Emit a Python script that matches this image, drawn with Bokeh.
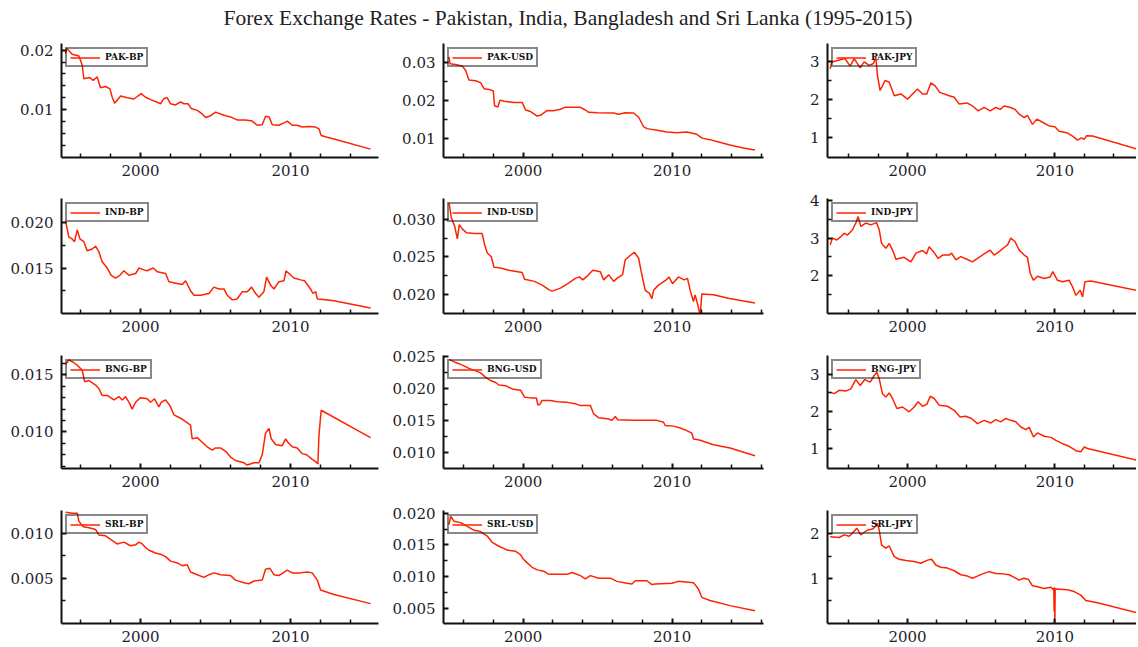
from bokeh.plotting import figure
from bokeh.layouts import gridplot, column
from bokeh.models import Range1d, FixedTicker, Div
from bokeh.embed import file_html
from bokeh.resources import INLINE

TITLE = "Forex Exchange Rates - Pakistan, India, Bangladesh and Sri Lanka (1995-2015)"

# ---------------- data ----------------
pak_bp_year = [1995.0, 1995.07, 1995.44, 1995.89, 1996.11, 1996.22, 1996.62, 1996.84, 1997.11, 1997.33, 1997.67, 1997.96, 1998.11, 1998.27, 1998.44, 1998.67, 1999.11, 1999.56, 1999.82, 2000.04, 2000.33, 2000.67, 2001.07, 2001.33, 2001.56, 2001.78, 2002.0, 2002.33, 2002.67, 2002.89, 2003.16, 2003.38, 2003.78, 2004.11, 2004.33, 2004.67, 2005.0, 2005.33, 2005.67, 2006.0, 2006.44, 2007.0, 2007.44, 2007.78, 2008.11, 2008.33, 2008.56, 2008.78, 2009.22, 2009.56, 2009.78, 2010.11, 2010.44, 2010.78, 2011.22, 2011.67, 2011.89, 2012.04, 2012.44, 2012.89, 2015.33]
pak_bp_rate = [0.0194, 0.0203, 0.0193, 0.0190, 0.0175, 0.0152, 0.0154, 0.0149, 0.0155, 0.0137, 0.0139, 0.0135, 0.0121, 0.0111, 0.0116, 0.0123, 0.0120, 0.0118, 0.0123, 0.0127, 0.0121, 0.0117, 0.0113, 0.0110, 0.0119, 0.0120, 0.0110, 0.0108, 0.0113, 0.0110, 0.0110, 0.0102, 0.0099, 0.0093, 0.0087, 0.0090, 0.0096, 0.0093, 0.0090, 0.0088, 0.0083, 0.0083, 0.0081, 0.0074, 0.0075, 0.0089, 0.0088, 0.0075, 0.0074, 0.0078, 0.0081, 0.0074, 0.0074, 0.0071, 0.0072, 0.0071, 0.0068, 0.0057, 0.0054, 0.0051, 0.0034]

pak_usd_year = [1995.02, 1995.09, 1995.54, 1995.92, 1996.14, 1996.36, 1996.81, 1997.14, 1997.37, 1997.81, 1997.99, 1998.08, 1998.3, 1998.44, 1998.71, 1999.38, 1999.93, 2000.16, 2000.49, 2000.94, 2001.21, 2001.61, 2002.01, 2002.5, 2002.79, 2003.84, 2004.17, 2004.4, 2005.0, 2006.07, 2006.41, 2006.85, 2007.41, 2007.75, 2008.08, 2008.3, 2009.0, 2009.64, 2010.31, 2010.98, 2011.65, 2012.01, 2012.54, 2012.99, 2013.88, 2014.78, 2015.56]
pak_usd_rate = [0.0314, 0.0296, 0.0293, 0.0289, 0.0278, 0.0253, 0.0251, 0.0246, 0.0230, 0.0227, 0.0224, 0.0185, 0.0182, 0.0200, 0.0197, 0.0194, 0.0194, 0.0174, 0.0170, 0.0158, 0.0161, 0.0173, 0.0172, 0.0176, 0.0181, 0.0181, 0.0174, 0.0168, 0.0167, 0.0166, 0.0163, 0.0167, 0.0166, 0.0155, 0.0130, 0.0125, 0.0121, 0.0116, 0.0114, 0.0116, 0.0110, 0.0100, 0.0096, 0.0091, 0.0082, 0.0074, 0.0069]

pak_jpy_year = [1994.75, 1994.86, 1995.25, 1995.75, 1996.11, 1996.38, 1996.79, 1997.06, 1997.40, 1997.69, 1997.85, 1997.96, 1998.14, 1998.48, 1998.76, 1999.10, 1999.55, 2000.0, 2000.34, 2000.68, 2001.02, 2001.31, 2001.58, 2001.86, 2002.19, 2002.83, 2003.17, 2003.51, 2004.03, 2004.41, 2004.80, 2005.20, 2005.61, 2006.0, 2006.29, 2006.56, 2006.99, 2007.29, 2007.58, 2007.92, 2008.14, 2008.48, 2008.78, 2009.19, 2009.62, 2010.0, 2010.29, 2010.81, 2011.20, 2011.54, 2011.81, 2011.99, 2012.15, 2012.56, 2015.70]
pak_jpy_rate = [2.82, 3.00, 3.04, 3.09, 2.89, 3.09, 2.84, 3.00, 2.91, 2.96, 3.13, 2.64, 2.24, 2.51, 2.46, 2.10, 2.15, 2.01, 2.15, 2.28, 2.15, 2.15, 2.44, 2.37, 2.19, 2.10, 2.06, 1.88, 1.91, 1.83, 1.70, 1.79, 1.70, 1.79, 1.74, 1.83, 1.79, 1.74, 1.61, 1.52, 1.58, 1.34, 1.48, 1.39, 1.30, 1.28, 1.16, 1.12, 1.03, 0.92, 0.98, 0.94, 1.04, 1.03, 0.67]

ind_bp_year = [1995.0, 1995.22, 1995.44, 1995.6, 1995.78, 1995.96, 1996.22, 1996.44, 1996.78, 1997.0, 1997.22, 1997.44, 1997.78, 1998.04, 1998.33, 1998.62, 1998.89, 1999.22, 1999.67, 1999.89, 2000.22, 2000.44, 2000.84, 2001.11, 2001.67, 2001.89, 2002.44, 2002.78, 2003.0, 2003.33, 2003.56, 2004.0, 2004.56, 2004.89, 2005.22, 2005.56, 2005.78, 2006.11, 2006.44, 2006.78, 2007.11, 2007.4, 2007.67, 2007.89, 2008.22, 2008.4, 2008.67, 2008.89, 2009.22, 2009.56, 2009.69, 2009.89, 2010.22, 2010.67, 2010.93, 2011.33, 2011.49, 2011.67, 2011.78, 2012.33, 2012.89, 2015.33]
ind_bp_rate = [0.0202, 0.0184, 0.0182, 0.0179, 0.0192, 0.0182, 0.0179, 0.0169, 0.0171, 0.0174, 0.0168, 0.0157, 0.0150, 0.0142, 0.0139, 0.0142, 0.0147, 0.0142, 0.0144, 0.0150, 0.0148, 0.0147, 0.0150, 0.0146, 0.0144, 0.0135, 0.0133, 0.0132, 0.0136, 0.0125, 0.0120, 0.0120, 0.0122, 0.0129, 0.0127, 0.0127, 0.0120, 0.0115, 0.0116, 0.0124, 0.0124, 0.0129, 0.0122, 0.0118, 0.0124, 0.0140, 0.0131, 0.0127, 0.0135, 0.0136, 0.0147, 0.0144, 0.0139, 0.0137, 0.0136, 0.0127, 0.0122, 0.0124, 0.0116, 0.0115, 0.0114, 0.0106]

ind_usd_year = [1995.02, 1995.18, 1995.4, 1995.58, 1995.71, 1995.92, 1996.21, 1996.7, 1997.25, 1997.41, 1997.59, 1997.86, 1998.04, 1998.48, 1999.04, 1999.93, 2000.09, 2000.76, 2001.27, 2001.72, 2001.94, 2002.5, 2002.99, 2003.5, 2003.77, 2004.0, 2004.29, 2004.67, 2005.18, 2005.4, 2005.74, 2006.07, 2006.29, 2006.67, 2006.85, 2007.14, 2007.46, 2007.75, 2007.9, 2008.19, 2008.48, 2008.64, 2008.75, 2009.08, 2009.6, 2009.78, 2010.02, 2010.42, 2010.8, 2011.03, 2011.21, 2011.43, 2011.54, 2011.7, 2011.88, 2011.99, 2012.77, 2013.84, 2015.56]
ind_usd_rate = [0.0322, 0.0302, 0.0291, 0.0274, 0.0293, 0.0287, 0.0282, 0.0281, 0.0281, 0.0266, 0.0255, 0.0250, 0.0236, 0.0235, 0.0232, 0.0229, 0.0220, 0.0217, 0.0212, 0.0206, 0.0204, 0.0208, 0.0214, 0.0221, 0.0223, 0.0219, 0.0224, 0.0232, 0.0230, 0.0219, 0.0226, 0.0217, 0.0221, 0.0226, 0.0246, 0.0251, 0.0256, 0.0248, 0.0232, 0.0205, 0.0201, 0.0194, 0.0205, 0.0212, 0.0219, 0.0223, 0.0214, 0.0223, 0.0219, 0.0221, 0.0205, 0.0190, 0.0199, 0.0187, 0.0172, 0.0200, 0.0199, 0.0194, 0.0188]

ind_jpy_year = [1994.75, 1994.91, 1995.2, 1995.48, 1995.7, 1995.93, 1996.27, 1996.49, 1996.65, 1996.83, 1997.17, 1997.51, 1997.9, 1998.08, 1998.24, 1998.53, 1998.76, 1999.03, 1999.21, 1999.77, 2000.23, 2000.57, 2001.02, 2001.29, 2001.47, 2001.76, 2002.08, 2002.38, 2002.83, 2002.99, 2003.28, 2003.62, 2004.03, 2004.41, 2004.75, 2005.2, 2005.61, 2005.88, 2006.22, 2006.49, 2006.79, 2007.01, 2007.29, 2007.58, 2007.92, 2008.14, 2008.33, 2008.55, 2008.82, 2009.28, 2009.68, 2009.86, 2010.18, 2010.52, 2010.97, 2011.2, 2011.43, 2011.72, 2011.88, 2012.04, 2012.44, 2015.68]
ind_jpy_rate = [2.82, 3.00, 2.95, 3.04, 3.13, 3.08, 3.22, 3.40, 3.57, 3.31, 3.40, 3.35, 3.41, 3.22, 2.86, 2.73, 2.86, 2.64, 2.44, 2.49, 2.37, 2.60, 2.67, 2.58, 2.77, 2.64, 2.46, 2.55, 2.55, 2.60, 2.42, 2.51, 2.44, 2.37, 2.46, 2.58, 2.68, 2.55, 2.64, 2.73, 2.82, 3.00, 2.91, 2.68, 2.55, 2.49, 2.06, 1.88, 1.99, 1.93, 1.97, 2.11, 1.88, 1.84, 1.88, 1.71, 1.48, 1.62, 1.44, 1.84, 1.86, 1.60]

bng_bp_year = [1995.0, 1995.22, 1995.51, 1995.82, 1996.11, 1996.27, 1996.56, 1997.0, 1997.22, 1997.44, 1997.78, 1998.22, 1998.56, 1998.78, 1999.0, 1999.27, 1999.44, 1999.67, 2000.0, 2000.44, 2000.67, 2000.93, 2001.22, 2001.38, 2001.67, 2001.96, 2002.22, 2002.67, 2003.0, 2003.33, 2003.44, 2003.78, 2004.11, 2004.44, 2004.78, 2005.0, 2005.33, 2005.67, 2006.0, 2006.33, 2006.89, 2007.11, 2007.56, 2007.89, 2008.11, 2008.33, 2008.56, 2008.71, 2009.0, 2009.44, 2009.67, 2009.82, 2010.11, 2010.44, 2010.78, 2011.07, 2011.44, 2011.67, 2011.82, 2011.89, 2012.04, 2015.33]
bng_bp_rate = [0.0159, 0.0163, 0.0161, 0.0158, 0.0154, 0.0144, 0.0145, 0.0141, 0.0138, 0.0132, 0.0132, 0.0128, 0.0131, 0.0128, 0.0131, 0.0125, 0.0120, 0.0126, 0.0130, 0.0129, 0.0126, 0.0129, 0.0122, 0.0126, 0.0128, 0.0123, 0.0115, 0.0112, 0.0109, 0.0106, 0.0094, 0.0095, 0.0091, 0.0087, 0.0084, 0.0086, 0.0086, 0.0083, 0.0078, 0.0075, 0.0073, 0.0071, 0.0073, 0.0073, 0.0080, 0.0099, 0.0103, 0.0094, 0.0089, 0.0088, 0.0094, 0.0091, 0.0087, 0.0086, 0.0081, 0.0080, 0.0076, 0.0074, 0.0072, 0.0097, 0.0119, 0.0095]

bng_usd_year = [1995.02, 1995.47, 1995.92, 1996.36, 1996.81, 1997.14, 1997.48, 1997.81, 1998.15, 1998.37, 1998.82, 1999.26, 1999.82, 2000.09, 2000.49, 2000.89, 2000.98, 2001.12, 2001.27, 2001.83, 2002.28, 2002.95, 2003.5, 2003.84, 2004.51, 2004.73, 2005.07, 2005.74, 2005.96, 2006.18, 2006.34, 2007.41, 2008.97, 2009.42, 2009.53, 2010.09, 2010.54, 2010.98, 2011.32, 2011.43, 2011.65, 2011.88, 2012.77, 2013.88, 2015.56]
bng_usd_rate = [0.0245, 0.0240, 0.0236, 0.0231, 0.0227, 0.0224, 0.0217, 0.0212, 0.0209, 0.0205, 0.0204, 0.0199, 0.0197, 0.0186, 0.0185, 0.0185, 0.0174, 0.0175, 0.0181, 0.0181, 0.0179, 0.0178, 0.0176, 0.0173, 0.0173, 0.0160, 0.0154, 0.0152, 0.0150, 0.0156, 0.0151, 0.0150, 0.0150, 0.0147, 0.0142, 0.0141, 0.0138, 0.0134, 0.0130, 0.0121, 0.0120, 0.0119, 0.0112, 0.0107, 0.0095]

bng_jpy_year = [1994.75, 1995.02, 1995.36, 1995.81, 1996.15, 1996.49, 1996.79, 1997.1, 1997.47, 1997.74, 1997.92, 1998.08, 1998.3, 1998.53, 1998.76, 1998.98, 1999.28, 1999.66, 2000.11, 2000.45, 2000.72, 2001.02, 2001.31, 2001.54, 2001.81, 2002.15, 2002.71, 2003.17, 2003.57, 2003.96, 2004.34, 2004.75, 2005.2, 2005.66, 2005.99, 2006.33, 2006.67, 2007.01, 2007.35, 2007.69, 2008.03, 2008.26, 2008.55, 2008.82, 2009.28, 2009.73, 2010.07, 2010.52, 2010.97, 2011.43, 2011.76, 2011.99, 2012.22, 2015.7]
bng_jpy_rate = [2.52, 2.48, 2.57, 2.55, 2.61, 2.86, 2.70, 2.86, 2.79, 2.97, 3.06, 2.88, 2.48, 2.39, 2.50, 2.35, 2.08, 2.12, 1.99, 2.12, 2.26, 2.14, 2.19, 2.41, 2.35, 2.17, 2.14, 2.03, 1.85, 1.87, 1.81, 1.67, 1.76, 1.69, 1.78, 1.72, 1.81, 1.76, 1.72, 1.58, 1.51, 1.57, 1.31, 1.42, 1.33, 1.30, 1.22, 1.13, 1.06, 0.94, 0.91, 1.04, 1.00, 0.67]

srl_bp_year = [1995.0, 1995.44, 1995.78, 1995.89, 1996.18, 1996.56, 1997.0, 1997.22, 1997.67, 1998.0, 1998.44, 1998.89, 1999.33, 1999.67, 1999.89, 2000.11, 2000.33, 2000.56, 2001.0, 2001.44, 2001.67, 2002.0, 2002.44, 2002.78, 2003.11, 2003.33, 2003.78, 2004.22, 2004.56, 2004.89, 2005.33, 2006.0, 2006.33, 2006.89, 2007.22, 2007.56, 2008.11, 2008.33, 2008.62, 2008.89, 2009.22, 2009.78, 2010.11, 2010.67, 2011.11, 2011.44, 2011.78, 2012.0, 2012.89, 2015.33]
srl_bp_rate = [0.0123, 0.0122, 0.0122, 0.0113, 0.0107, 0.0106, 0.0104, 0.0098, 0.0097, 0.0093, 0.0088, 0.0090, 0.0086, 0.0087, 0.0090, 0.0088, 0.0084, 0.0081, 0.0078, 0.0076, 0.0074, 0.0069, 0.0067, 0.0064, 0.0065, 0.0057, 0.0054, 0.0051, 0.0054, 0.0056, 0.0054, 0.0053, 0.0048, 0.0045, 0.0044, 0.0047, 0.0048, 0.0060, 0.0061, 0.0054, 0.0053, 0.0059, 0.0056, 0.0056, 0.0057, 0.0056, 0.0048, 0.0037, 0.0032, 0.0022]

srl_usd_year = [1995.02, 1995.13, 1995.36, 1995.8, 1996.25, 1996.7, 1997.14, 1997.59, 1997.92, 1998.37, 1998.93, 1999.49, 1999.82, 2000.0, 2000.27, 2000.6, 2000.94, 2001.38, 2001.72, 2002.95, 2003.28, 2003.84, 2004.17, 2004.51, 2005.07, 2005.85, 2006.29, 2006.96, 2007.3, 2007.52, 2008.3, 2008.64, 2008.86, 2009.98, 2010.42, 2011.43, 2011.76, 2011.99, 2012.54, 2013.88, 2015.56]
srl_usd_rate = [0.0182, 0.0195, 0.0187, 0.0185, 0.0179, 0.0173, 0.0171, 0.0164, 0.0154, 0.0148, 0.0142, 0.0140, 0.0135, 0.0128, 0.0122, 0.0115, 0.0111, 0.0109, 0.0104, 0.0104, 0.0107, 0.0102, 0.0097, 0.0102, 0.0098, 0.0098, 0.0093, 0.0090, 0.0089, 0.0094, 0.0094, 0.0088, 0.0089, 0.0090, 0.0093, 0.0091, 0.0081, 0.0068, 0.0063, 0.0055, 0.0047]

srl_jpy_year = [1994.75, 1995.36, 1995.7, 1996.04, 1996.27, 1996.56, 1996.83, 1997.29, 1997.62, 1997.81, 1997.96, 1998.08, 1998.24, 1998.53, 1998.76, 1999.1, 1999.43, 1999.89, 2000.45, 2000.9, 2001.36, 2001.63, 2001.92, 2002.26, 2002.71, 2003.17, 2003.62, 2004.07, 2004.41, 2004.75, 2005.09, 2005.54, 2006.0, 2006.45, 2006.9, 2007.24, 2007.58, 2007.87, 2008.19, 2008.48, 2008.82, 2009.28, 2009.73, 2009.91, 2009.93, 2009.95, 2009.97, 2010.0, 2010.02, 2010.86, 2011.31, 2011.76, 2012.1, 2012.9, 2015.72]
srl_jpy_rate = [1.94, 1.92, 1.98, 1.95, 2.02, 2.13, 1.98, 2.09, 2.11, 2.17, 2.24, 2.09, 1.75, 1.68, 1.73, 1.49, 1.43, 1.40, 1.38, 1.34, 1.41, 1.43, 1.30, 1.25, 1.23, 1.17, 1.08, 1.05, 1.00, 1.05, 1.10, 1.15, 1.11, 1.10, 1.08, 1.02, 0.96, 1.00, 0.98, 0.83, 0.81, 0.77, 0.80, 0.74, 0.78, 0.25, 0.80, 0.0, 0.76, 0.74, 0.70, 0.62, 0.50, 0.45, 0.21]

# ---------------- axes ticks / labels ----------------
year_major = [2000, 2010]
year_minor = [1996, 1998, 2002, 2004, 2006, 2008, 2012, 2014, 2016]

labels = ["PAK-BP", "PAK-USD", "PAK-JPY",
          "IND-BP", "IND-USD", "IND-JPY",
          "BNG-BP", "BNG-USD", "BNG-JPY",
          "SRL-BP", "SRL-USD", "SRL-JPY"]

series = [(pak_bp_year, pak_bp_rate), (pak_usd_year, pak_usd_rate), (pak_jpy_year, pak_jpy_rate),
          (ind_bp_year, ind_bp_rate), (ind_usd_year, ind_usd_rate), (ind_jpy_year, ind_jpy_rate),
          (bng_bp_year, bng_bp_rate), (bng_usd_year, bng_usd_rate), (bng_jpy_year, bng_jpy_rate),
          (srl_bp_year, srl_bp_rate), (srl_usd_year, srl_usd_rate), (srl_jpy_year, srl_jpy_rate)]

y_limits = [(0.0020, 0.0211), (0.0049, 0.0349), (0.46, 3.49),
            (0.0100, 0.02265), (0.0174, 0.0328), (1.0, 4.05),
            (0.0068, 0.01669), (0.0075, 0.0251), (0.46, 3.51),
            (0.0, 0.0125), (0.0027, 0.0204), (-0.02, 2.53)]

y_major = [[0.01, 0.02], [0.01, 0.02, 0.03], [1, 2, 3],
           [0.015, 0.02], [0.02, 0.025, 0.03], [2, 3, 4],
           [0.01, 0.015], [0.01, 0.015, 0.02, 0.025], [1, 2, 3],
           [0.005, 0.01], [0.005, 0.01, 0.015, 0.02], [1, 2]]

y_major_text = [["0.01", "0.02"], ["0.01", "0.02", "0.03"], ["1", "2", "3"],
                ["0.015", "0.020"], ["0.020", "0.025", "0.030"], ["2", "3", "4"],
                ["0.010", "0.015"], ["0.010", "0.015", "0.020", "0.025"], ["1", "2", "3"],
                ["0.005", "0.010"], ["0.005", "0.010", "0.015", "0.020"], ["1", "2"]]

y_minor = [[0.004, 0.006, 0.008, 0.012, 0.014, 0.016, 0.018],
           [0.015, 0.025],
           [1.5, 2.5],
           [0.0125, 0.0175],
           [0.0225, 0.0275],
           [1.5, 2.5, 3.5],
           [0.007, 0.008, 0.009, 0.011, 0.012, 0.013, 0.014, 0.016],
           [0.0125, 0.0175, 0.0225],
           [1.5, 2.5],
           [0.0025, 0.0075],
           [0.0075, 0.0125, 0.0175],
           [0.5, 1.5]]

# ---------------- layout geometry ----------------
col_xlim = [(1994.73, 2015.86), (1994.65, 2016.13), (1994.57, 2015.54)]
col_frame_w = [317, 320, 309]
col_left = [61, 60, 59]
col_right = [5, 5, 0]
row_top = [8, 17, 18, 18]
row_frame_h = [114, 115, 113, 113]
row_bottom = [24, 24, 24, 23]

LINE_COLOR = "#ff2200"
TEXT_COLOR = "#1e1e2a"
FONT = "DejaVu Serif"

figs = []
for i, (label, (xs, ys)) in enumerate(zip(labels, series)):
    r, c = divmod(i, 3)
    n = min(len(xs), len(ys))
    p = figure(frame_width=col_frame_w[c], frame_height=row_frame_h[r],
               x_range=Range1d(*col_xlim[c]), y_range=Range1d(*y_limits[i]),
               min_border_left=col_left[c], min_border_right=col_right[c],
               min_border_top=row_top[r], min_border_bottom=row_bottom[r],
               output_backend="svg", toolbar_location=None, tools="")
    p.xgrid.visible = False
    p.ygrid.visible = False
    p.outline_line_color = None
    p.background_fill_color = "white"
    p.border_fill_color = "white"

    p.line(xs[:n], ys[:n], line_color=LINE_COLOR, line_width=1.5, legend_label=label)

    p.xaxis.ticker = FixedTicker(ticks=year_major, minor_ticks=year_minor)
    p.yaxis.ticker = FixedTicker(ticks=y_major[i], minor_ticks=y_minor[i])
    p.yaxis.major_label_overrides = {v: t for v, t in zip(y_major[i], y_major_text[i])}

    for ax in (p.xaxis[0], p.yaxis[0]):
        ax.axis_line_color = "#111111"
        ax.axis_line_width = 2
        ax.major_tick_in = 5
        ax.major_tick_out = 0
        ax.minor_tick_in = 4
        ax.minor_tick_out = 0
        ax.major_tick_line_color = "#111111"
        ax.minor_tick_line_color = "#111111"
        ax.major_tick_line_width = 2
        ax.minor_tick_line_width = 1.5
        ax.major_label_text_font = FONT
        ax.major_label_text_font_size = "15px"
        ax.major_label_text_color = TEXT_COLOR
    p.yaxis.major_label_standoff = 8
    p.xaxis.major_label_standoff = 7

    lg = p.legend[0]
    lg.location = "top_left"
    lg.margin = 4
    lg.padding = 3
    lg.spacing = 0
    lg.glyph_width = 30
    lg.glyph_height = 9
    lg.label_height = 9
    lg.label_standoff = 5
    lg.label_text_font = FONT
    lg.label_text_font_size = "9px"
    lg.label_text_font_style = "bold"
    lg.label_text_color = "#111111"
    lg.border_line_color = "#111111"
    lg.border_line_width = 2
    lg.background_fill_alpha = 0
    figs.append(p)

title_div = Div(
    text=('<div style="width:1136px;text-align:center;font-family:\'Liberation Serif\';'
          'font-size:21.5px;line-height:36px;color:#222;white-space:nowrap;">' + TITLE + '</div>'),
    width=1136, height=35, margin=(0, 0, 0, 0))

grid = gridplot(figs, ncols=3, toolbar_location=None)
layout = column(title_div, grid, spacing=0)

open("out.html", "w").write(file_html(layout, INLINE, title=TITLE))
